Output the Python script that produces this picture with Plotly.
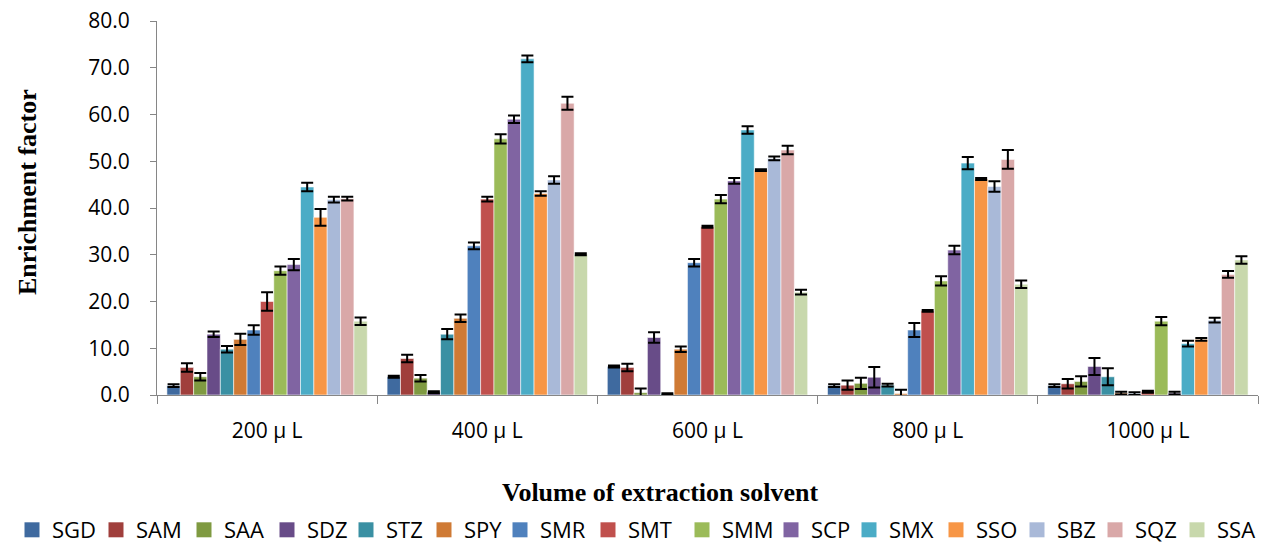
import plotly.graph_objects as go

categories = ["200 μ L", "400 μ L", "600 μ L", "800 μ L", "1000 μ L"]
series_names = ["SGD", "SAM", "SAA", "SDZ", "STZ", "SPY", "SMR", "SMT",
                "SMM", "SCP", "SMX", "SSO", "SBZ", "SQZ", "SSA"]

SGD = [2.0, 3.9, 6.1, 2.0, 2.0]
SAM = [5.9, 7.8, 5.9, 2.1, 2.4]
SAA = [3.9, 3.6, 0.5, 2.5, 2.9]
SDZ = [13.0, 0.6, 12.3, 3.8, 6.1]
STZ = [9.8, 13.0, 0.3, 2.1, 3.9]
SPY = [11.9, 16.4, 9.8, 0.3, 0.4]
SMR = [13.9, 31.9, 28.3, 13.9, 0.3]
SMT = [20.0, 41.9, 36.0, 18.0, 0.7]
SMM = [26.6, 54.8, 41.9, 24.4, 15.8]
SCP = [27.9, 59.0, 45.8, 31.0, 0.4]
SMX = [44.5, 71.9, 56.7, 49.6, 11.0]
SSO = [38.0, 43.1, 48.1, 46.2, 11.9]
SBZ = [41.8, 46.0, 50.6, 44.6, 16.0]
SQZ = [42.0, 62.4, 52.4, 50.4, 25.8]
SSA = [15.8, 30.1, 22.0, 23.7, 28.9]

SGD_err = [0.3, 0.2, 0.2, 0.3, 0.3]
SAM_err = [0.9, 0.8, 0.8, 1.0, 1.0]
SAA_err = [0.8, 0.7, 0.9, 1.2, 1.1]
SDZ_err = [0.6, 0.2, 1.1, 2.2, 1.8]
STZ_err = [0.7, 1.1, 0.1, 0.3, 1.8]
SPY_err = [1.2, 0.8, 0.6, 0.8, 0.3]
SMR_err = [1.0, 0.7, 0.8, 1.5, 0.3]
SMT_err = [2.0, 0.5, 0.2, 0.2, 0.2]
SMM_err = [0.9, 1.0, 0.9, 1.0, 0.9]
SCP_err = [1.2, 0.8, 0.6, 0.9, 0.3]
SMX_err = [0.9, 0.7, 0.8, 1.3, 0.6]
SSO_err = [1.8, 0.5, 0.2, 0.2, 0.3]
SBZ_err = [0.6, 0.8, 0.4, 1.1, 0.5]
SQZ_err = [0.4, 1.4, 0.9, 2.0, 0.7]
SSA_err = [0.8, 0.2, 0.5, 0.8, 0.8]

values = [SGD, SAM, SAA, SDZ, STZ, SPY, SMR, SMT, SMM, SCP, SMX, SSO, SBZ, SQZ, SSA]
errors = [SGD_err, SAM_err, SAA_err, SDZ_err, STZ_err, SPY_err, SMR_err, SMT_err,
          SMM_err, SCP_err, SMX_err, SSO_err, SBZ_err, SQZ_err, SSA_err]

colors = ["#3F6A9F", "#A03F3C", "#7F9A41", "#684C88", "#3A90A3", "#CF7A35",
          "#4F81BD", "#C0504D", "#9BBB59", "#8064A2", "#4BACC6", "#F79646",
          "#A9B9D8", "#D9A8A8", "#C8D8AC"]
legend_widths = [39, 43, 38, 34, 33, 31, 43, 49, 44, 33, 42, 36, 33, 37, 38]

W, H = 1264, 544
ML, MR, MT, MB = 157, 6, 21, 149
PW, PH = W - ML - MR, H - MT - MB

fig = go.Figure()
for name, vals, errs, col in zip(series_names, values, errors, colors):
    fig.add_trace(go.Bar(
        x=categories, y=vals, name=name, showlegend=False,
        marker=dict(color=col, line=dict(color="rgba(255,255,255,0.55)", width=1)),
        error_y=dict(type="data", array=errs, color="black", thickness=2, width=6),
    ))
for name, col, lw in zip(series_names, colors, legend_widths):
    fig.add_trace(go.Scatter(
        x=[None], y=[None], mode="markers", name=name,
        marker=dict(symbol="square", size=15, color=col),
        legendwidth=lw,
    ))

axis_col = "#868686"
fig.update_layout(
    width=W, height=H,
    margin=dict(l=ML, r=MR, t=MT, b=MB, pad=0, autoexpand=False),
    plot_bgcolor="white", paper_bgcolor="white",
    barmode="group", bargap=0.09, bargroupgap=0,
    font=dict(family="Open Sans", color="black"),
    showlegend=True,
    legend=dict(
        orientation="h", x=(12 - ML) / PW, xanchor="left",
        y=(395 - 530) / PH, yanchor="middle",
        font=dict(family="Open Sans", size=22, color="black"),
        itemwidth=30, tracegroupgap=0, bgcolor="rgba(0,0,0,0)",
        itemsizing="trace",
    ),
    xaxis=dict(
        showline=True, linecolor=axis_col, linewidth=1,
        ticks="outside", tickson="boundaries", ticklen=8, tickcolor=axis_col,
        tickfont=dict(family="Open Sans", size=21, color="black"),
        ticklabelstandoff=17, showgrid=False,
    ),
    yaxis=dict(
        range=[0, 80], dtick=10, tickformat=".1f",
        showline=True, linecolor=axis_col, linewidth=1,
        ticks="outside", ticklen=6, tickcolor=axis_col,
        tickfont=dict(family="Open Sans", size=21, color="black"),
        ticklabelstandoff=16, showgrid=False, zeroline=False,
    ),
    annotations=[
        dict(text="<b>Enrichment factor</b>", xref="paper", yref="paper",
             x=(27 - ML) / PW, y=(395 - 192) / PH, xanchor="center", yanchor="middle",
             textangle=-90, showarrow=False,
             font=dict(family="Liberation Serif", size=26, color="black")),
        dict(text="<b>Volume of extraction solvent</b>", xref="paper", yref="paper",
             x=(660 - ML) / PW, y=(395 - 492) / PH, xanchor="center", yanchor="middle",
             showarrow=False,
             font=dict(family="Liberation Serif", size=26, color="black")),
    ],
)

fig.write_html("out.html")
